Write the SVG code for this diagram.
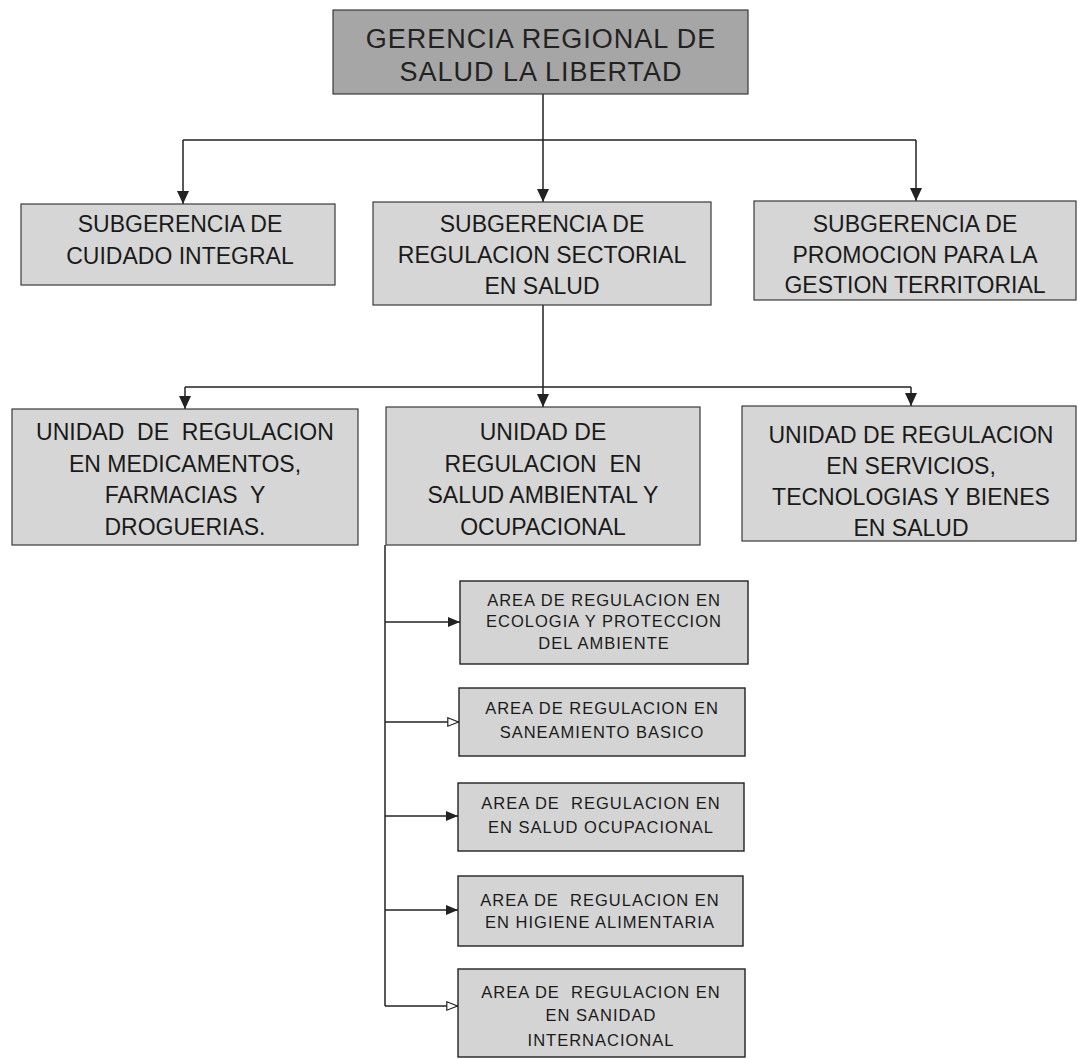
<svg xmlns="http://www.w3.org/2000/svg" width="1085" height="1059" viewBox="0 0 1085 1059">
<style>
.bg{fill:#ffffff}
.top{fill:#a6a6a6;stroke:#3a3a3a;stroke-width:1.2}
.box{fill:#d6d6d6;stroke:#3a3a3a;stroke-width:1.2}
.area{fill:#d4d4d4;stroke:#222;stroke-width:1.4}
.t1{font-family:"Liberation Sans",Arial,sans-serif;font-size:27px;fill:#222;text-anchor:middle;letter-spacing:1px}
.t2{font-family:"Liberation Sans",Arial,sans-serif;font-size:23px;fill:#1a1a1a;text-anchor:middle}
.t3{font-family:"Liberation Sans",Arial,sans-serif;font-size:16.5px;fill:#1a1a1a;text-anchor:middle;letter-spacing:1px}
.ln{fill:none;stroke:#222;stroke-width:1.5}
.lnf{fill:none;stroke:#222;stroke-width:1.5;marker-end:url(#af)}
.lno{fill:none;stroke:#222;stroke-width:1.5;marker-end:url(#ao)}
.lnd{fill:none;stroke:#222;stroke-width:1.5;marker-end:url(#ad)}
</style>
<defs>
<marker id="ad" markerUnits="userSpaceOnUse" markerWidth="14" markerHeight="16" refX="13" refY="6" orient="auto">
<path d="M0,0 L13,6 L0,12 Z" fill="#222"/>
</marker>
<marker id="af" markerUnits="userSpaceOnUse" markerWidth="14" markerHeight="12" refX="12" refY="5" orient="auto">
<path d="M0,0 L12,5 L0,10 Z" fill="#222"/>
</marker>
<marker id="ao" markerUnits="userSpaceOnUse" markerWidth="14" markerHeight="12" refX="12" refY="5" orient="auto">
<path d="M0.8,0.8 L11.5,5 L0.8,9.2 Z" fill="#fff" stroke="#222" stroke-width="1.2"/>
</marker>
</defs>
<rect class="bg" x="0" y="0" width="1085" height="1059"/>

<g id="connectors">
<path class="ln" d="M543,94 V140 M183,140 H916"/>
<path class="lnd" d="M183,140 V204"/>
<path class="lnd" d="M543,140 V202"/>
<path class="lnd" d="M916,140 V201"/>
<path class="ln" d="M543,305 V387 M185,387 H911"/>
<path class="lnd" d="M185,387 V409"/>
<path class="lnd" d="M543,387 V407"/>
<path class="lnd" d="M911,387 V406"/>
<path class="ln" d="M385,545 V1006"/>
<path class="lnf" d="M385,622 H460"/>
<path class="lno" d="M385,722 H459"/>
<path class="lnf" d="M385,816 H458"/>
<path class="lnf" d="M385,910 H458"/>
<path class="lno" d="M385,1006 H458"/>
</g>

<g id="gerencia">
<rect class="top" x="333" y="10" width="415" height="84"/>
<text class="t1" x="541" y="48">GERENCIA REGIONAL DE</text>
<text class="t1" x="541" y="81">SALUD LA LIBERTAD</text>
</g>

<g id="sub-cuidado">
<rect class="box" x="21" y="204" width="314" height="81"/>
<text class="t2" x="180" y="232">SUBGERENCIA DE</text>
<text class="t2" x="180" y="264">CUIDADO INTEGRAL</text>
</g>

<g id="sub-regulacion">
<rect class="box" x="373" y="202" width="338" height="103"/>
<text class="t2" x="542" y="232">SUBGERENCIA DE</text>
<text class="t2" x="542" y="263">REGULACION SECTORIAL</text>
<text class="t2" x="542" y="294">EN SALUD</text>
</g>

<g id="sub-promocion">
<rect class="box" x="754" y="201" width="322" height="99"/>
<text class="t2" x="915" y="232">SUBGERENCIA DE</text>
<text class="t2" x="915" y="263">PROMOCION PARA LA</text>
<text class="t2" x="915" y="293">GESTION TERRITORIAL</text>
</g>

<g id="unidad-medicamentos">
<rect class="box" x="12" y="409" width="346" height="136"/>
<text class="t2" x="185" y="440" xml:space="preserve">UNIDAD  DE  REGULACION</text>
<text class="t2" x="185" y="472">EN MEDICAMENTOS,</text>
<text class="t2" x="185" y="503" xml:space="preserve">FARMACIAS  Y</text>
<text class="t2" x="185" y="535">DROGUERIAS.</text>
</g>

<g id="unidad-ambiental">
<rect class="box" x="386" y="407" width="314" height="138"/>
<text class="t2" x="543" y="440">UNIDAD DE</text>
<text class="t2" x="543" y="472" xml:space="preserve">REGULACION  EN</text>
<text class="t2" x="543" y="503">SALUD AMBIENTAL Y</text>
<text class="t2" x="543" y="535">OCUPACIONAL</text>
</g>

<g id="unidad-servicios">
<rect class="box" x="742" y="406" width="334" height="135"/>
<text class="t2" x="911" y="443">UNIDAD DE REGULACION</text>
<text class="t2" x="911" y="474">EN SERVICIOS,</text>
<text class="t2" x="911" y="505">TECNOLOGIAS Y BIENES</text>
<text class="t2" x="911" y="536">EN SALUD</text>
</g>

<g id="area-ecologia">
<rect class="area" x="460" y="581" width="288" height="83"/>
<text class="t3" x="604" y="606">AREA DE REGULACION EN</text>
<text class="t3" x="604" y="627">ECOLOGIA Y PROTECCION</text>
<text class="t3" x="604" y="649">DEL AMBIENTE</text>
</g>

<g id="area-saneamiento">
<rect class="area" x="459" y="688" width="286" height="68"/>
<text class="t3" x="602" y="714">AREA DE REGULACION EN</text>
<text class="t3" x="602" y="738">SANEAMIENTO BASICO</text>
</g>

<g id="area-salud-ocupacional">
<rect class="area" x="458" y="783" width="286" height="68"/>
<text class="t3" x="601" y="809" xml:space="preserve">AREA DE  REGULACION EN</text>
<text class="t3" x="601" y="833">EN SALUD OCUPACIONAL</text>
</g>

<g id="area-higiene">
<rect class="area" x="458" y="876" width="285" height="70"/>
<text class="t3" x="600" y="906" xml:space="preserve">AREA DE  REGULACION EN</text>
<text class="t3" x="600" y="928">EN HIGIENE ALIMENTARIA</text>
</g>

<g id="area-sanidad">
<rect class="area" x="458" y="969" width="287" height="88"/>
<text class="t3" x="601" y="998" xml:space="preserve">AREA DE  REGULACION EN</text>
<text class="t3" x="601" y="1021">EN SANIDAD</text>
<text class="t3" x="601" y="1046">INTERNACIONAL</text>
</g>
</svg>
